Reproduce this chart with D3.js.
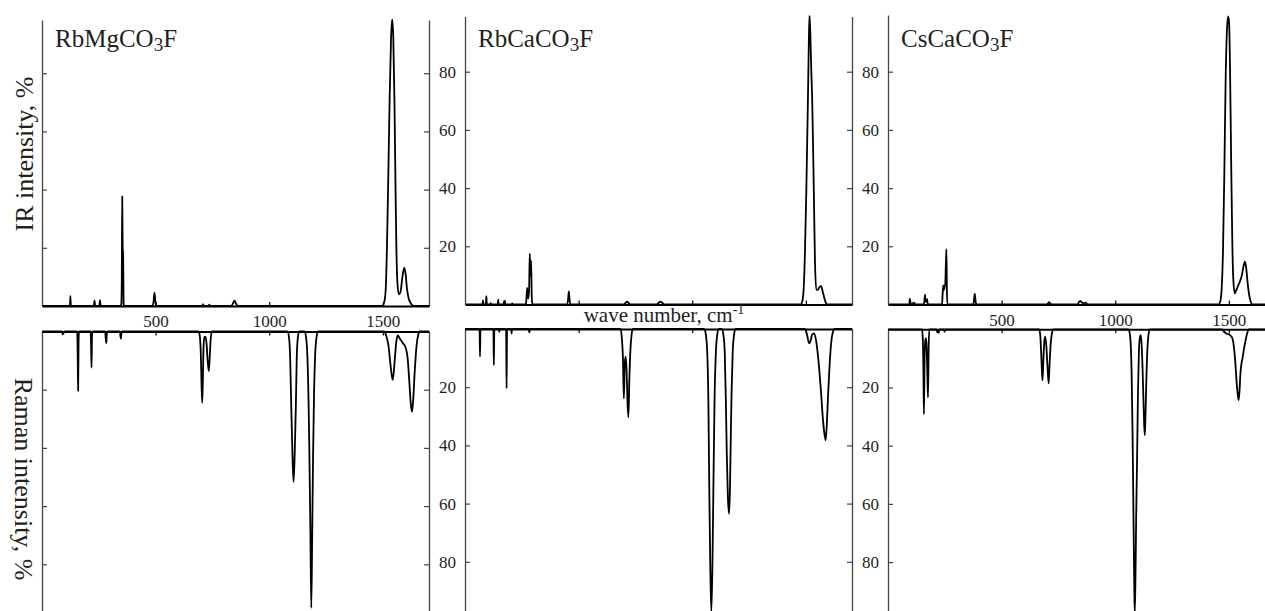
<!DOCTYPE html>
<html>
<head>
<meta charset="utf-8">
<script src="https://cdn.jsdelivr.net/npm/d3@7"></script>
<style>
  body { margin: 0; background: #fff; }
  svg text { font-family: "Liberation Serif", "Times New Roman", serif; fill: #231f20; }
  .yAxis path { stroke: #444; stroke-width: 1.3; }
  .yAxis line { stroke: #444; stroke-width: 1.2; }
  .xAxis path { stroke: #000; stroke-width: 2; }
  .xAxis line { stroke: #000; stroke-width: 1.2; }
  .tick text { font-size: 17px; }
</style>
</head>
<body>
<script>
var width = 1265,
    height = 611;

// wavenumber (cm-1), intensity (%)
var irRbMg = [
  [0,0],[120,0],[123,0.3],[125,3.4],[127,0],[228,0],[231,1.8],[234,0],[252,0],[255,2],[258,0],
  [345,0],[349,0.6],[351,8],[353,37.7],[355,20],[357,18],[359,1],[362,0],
  [487,0],[491,1.5],[495,4.6],[499,1.5],[503,0],[705,0],[708,0.6],[711,0],[733,0],[736,0.5],[739,0],
  [832,0],[840,0.8],[847,1.8],[854,0.8],[862,0],
  [1498,0],[1505,1],[1512,5],[1518,20],[1524,45],[1530,72],[1536,92],[1541,98.6],[1546,92],[1551,70],
  [1555,45],[1559,22],[1564,8],[1570,4],[1578,5],[1586,10],[1594,13.2],[1600,11],[1606,6],[1614,2.5],
  [1624,0.8],[1636,0],[1703,0]
];
var ramanRbMg = [
  [0,0],[88,0],[91,1],[95,0.6],[99,0],[155,0],[157,8],[159,20.4],[161,3],[163,0],
  [214,0],[216,5],[218,12.4],[220,2],[222,0],[278,0],[280,2],[283,4],[285,1],[288,0],
  [343,0],[345,1.5],[347,2.5],[349,1],[352,0],
  [690,0],[695,2],[699,8],[702,18],[705,24.5],[708,16],[711,5],[715,2],[719,1.8],[724,4],[729,10],
  [734,13.6],[738,9],[742,3],[747,0],
  [1080,0],[1087,2],[1092,9],[1097,26],[1102,42],[1107,51.7],[1112,42],[1117,26],[1121,9],[1126,2],[1132,0],
  [1155,0],[1162,2],[1167,7],[1172,20],[1176,38],[1181,68],[1185,95],[1189,70],[1193,42],[1197,22],
  [1202,8],[1208,2],[1214,0],
  [1505,0],[1515,1.5],[1525,5],[1533,11],[1539,15],[1543,16.6],[1548,14],[1554,8],[1560,3],[1566,1.3],
  [1575,2.5],[1588,4],[1600,5.5],[1610,10],[1617,18],[1623,25],[1628,27.6],[1633,24],[1640,14],
  [1648,5],[1656,1],[1662,0],[1703,0]
];
var irRbCa = [
  [0,0],[77,0],[79,1.4],[81,0],[91,0],[93,1.5],[94,2.9],[96,0],[111,0],[113,0.5],[115,0],
  [144,0],[146,1.7],[148,0],[170,0],[172,1.2],[174,0.3],[176,1.2],[178,0],[206,0],[208,0.4],[210,0],
  [268,0],[271,3],[274,5.7],[278,2],[282,5],[285,17.5],[288,10],[291,15],[294,2],[297,0],
  [450,0],[454,2],[457,4.5],[460,2],[463,0],[700,0],[707,0.6],[713,1],[719,0.6],[726,0],
  [845,0],[852,0.6],[860,1],[868,0.6],[876,0],
  [1478,0],[1484,1],[1490,5],[1496,18],[1502,39],[1509,70],[1513,90],[1516,99.5],[1520,92],[1524,80],
  [1528,70],[1535,39],[1540,15],[1546,5],[1552,5],[1560,6],[1567,6.3],[1574,4.5],[1582,2],[1588,0.6],
  [1595,0],[1703,0]
];
var ramanRbCa = [
  [0,0],[64,0],[66,9.5],[68,0],[125,0],[127,12.4],[129,0],[149,0],[151,1],[153,0],
  [181,0],[183,20.4],[185,0],[203,0],[205,1.5],[207,0],[280,0],[283,1.2],[286,0],
  [685,0],[690,3],[695,10],[699,23.9],[703,12],[707,9.5],[711,14],[715,25],[719,30.4],[723,18],
  [728,7],[733,2],[738,0],
  [1052,0],[1060,2],[1066,8],[1071,25],[1075,55],[1079,80],[1084,97.5],[1089,80],[1093,55],[1098,25],
  [1104,8],[1110,2],[1117,0],
  [1130,0],[1137,2],[1143,8],[1148,25],[1152,43],[1157,58],[1162,63.5],[1166,55],[1169,40],[1173,22],
  [1178,8],[1184,2],[1190,0],
  [1495,0],[1502,1],[1508,3],[1512,4.5],[1516,4.9],[1521,4],[1527,2],[1536,1.5],[1545,4],[1553,9],
  [1560,15],[1567,22],[1573,29],[1580,35],[1587,38.3],[1592,33],[1597,24],[1602,16],[1608,8],
  [1614,3],[1620,0.8],[1625,0],[1703,0]
];
var irCsCa = [
  [0,0],[94,0],[96,2],[98,1],[100,0],[106,0],[108,0.5],[112,0.3],[116,0.6],[119,0],
  [158,0],[161,2],[163,3.4],[165,1],[170,1],[172,1.8],[175,0],
  [238,0],[240,3],[243,6.6],[246,5],[249,6],[252,7],[254,12],[257,19],[259,6],[261,0],
  [376,0],[379,2],[382,3.6],[385,1.5],[388,0],[700,0],[705,0.5],[709,0.8],[713,0.5],[718,0],
  [834,0],[840,0.8],[846,1.2],[852,0.8],[860,0.4],[868,0.6],[872,0.5],[878,0],
  [1455,0],[1462,1],[1468,5],[1474,18],[1480,45],[1486,78],[1492,95],[1497,99],[1501,97],[1505,82],
  [1510,50],[1515,22],[1520,8],[1526,3.8],[1533,5],[1541,6.5],[1549,8],[1557,10],[1564,13],
  [1571,14.7],[1577,12],[1583,7],[1590,3],[1596,1],[1603,0],[1703,0]
];
var ramanCsCa = [
  [0,0],[150,0],[153,3],[156,15],[158,29.2],[161,10],[164,4],[167,3],[170,6],[173,15],[176,23.4],
  [179,6],[182,0],[214,0],[217,1],[220,0.3],[223,1.2],[226,0],[246,0],[249,0.8],[252,0],
  [665,0],[670,2],[674,8],[677,14],[680,17.5],[684,10],[688,4],[692,2.5],[697,6],[702,13],[707,18.6],
  [711,12],[716,5],[721,1.5],[727,0],
  [1058,0],[1063,1],[1068,5],[1072,15],[1076,35],[1078,48],[1081,70],[1084,90],[1086,97.5],[1089,85],
  [1092,65],[1096,45],[1100,22],[1104,8],[1108,3],[1112,2],[1116,5],[1120,13],[1124,24],[1127,32],
  [1130,36.4],[1133,30],[1137,17],[1142,6],[1147,1.5],[1152,0],
  [1470,0],[1478,0.8],[1490,1.5],[1505,2],[1515,3],[1522,6],[1528,11],[1534,18],[1540,23],[1543,24.3],
  [1547,21],[1551,15],[1555,12],[1560,10],[1566,7],[1573,4],[1580,1.5],[1588,0],[1703,0]
];

var compounds = [["RbMgCO", "F"], ["RbCaCO", "F"], ["CsCaCO", "F"]];
var irData = [irRbMg, irRbCa, irCsCa];
var ramanData = [ramanRbMg, ramanRbCa, ramanCsCa];
var xTicks = [500, 1000, 1500];
var yTicks = [20, 40, 60, 80];
var xMax = 1703;

// panel placement in px
var panels = [
  {x0: 42,  upTop: 20,   upBase: 306,   loTop: 331.5, yLabels: false, xLabels: true},
  {x0: 465, upTop: 16.5, upBase: 304.5, loTop: 329,   yLabels: true,  xLabels: false},
  {x0: 888, upTop: 15,   upBase: 304.5, loTop: 329.3, yLabels: true,  xLabels: true}
];
var panelW = 387,
    pxPerUnit = 2.91;

var svg = d3.select('body').append('svg')
  .attr('width', width)
  .attr('height', height);

var line = function(x, y){
  return d3.line()
    .x(function(d){ return x(d[0]); })
    .y(function(d){ return y(d[1]); })
    .curve(d3.curveMonotoneX);
};

panels.forEach(function(p, i){
  var x = d3.scaleLinear().domain([0, xMax]).range([p.x0, p.x0 + panelW]);

  var upMax = (p.upBase - p.upTop) / pxPerUnit;
  var yUp = d3.scaleLinear().domain([0, upMax]).range([p.upBase, p.upTop]);

  var loMax = (height - p.loTop) / pxPerUnit;
  var yLo = d3.scaleLinear().domain([0, loMax]).range([p.loTop, height]);

  var g = svg.append('g');

  // clip so the tall peaks stop at the frame
  g.append('clipPath').attr('id', 'clipUp' + i)
    .append('rect').attr('x', p.x0).attr('y', p.upTop - 1)
    .attr('width', panelW).attr('height', p.upBase - p.upTop + 1);

  g.append('path')
    .datum(irData[i])
    .attr('clip-path', 'url(#clipUp' + i + ')')
    .attr('fill', 'none')
    .attr('stroke', '#000')
    .attr('stroke-width', 1.8)
    .attr('stroke-linejoin', 'round')
    .attr('d', line(x, yUp));

  g.append('path')
    .datum(ramanData[i])
    .attr('fill', 'none')
    .attr('stroke', '#000')
    .attr('stroke-width', 1.8)
    .attr('stroke-linejoin', 'round')
    .attr('d', line(x, yLo));

  // vertical axes, ticks inward
  g.append('g')
    .attr('class', 'yAxis')
    .attr('transform', 'translate(' + p.x0 + ',0)')
    .call(d3.axisLeft(yUp).tickValues(yTicks).tickSizeInner(-5).tickSizeOuter(0).tickPadding(9)
      .tickFormat(p.yLabels ? d3.format('d') : ''));

  g.append('g')
    .attr('class', 'yAxis')
    .attr('transform', 'translate(' + (p.x0 + panelW) + ',0)')
    .call(d3.axisRight(yUp).tickValues(yTicks).tickSizeInner(-5).tickSizeOuter(0).tickFormat(''));

  g.append('g')
    .attr('class', 'yAxis')
    .attr('transform', 'translate(' + p.x0 + ',0)')
    .call(d3.axisLeft(yLo).tickValues(yTicks).tickSizeInner(-5).tickSizeOuter(0).tickPadding(9)
      .tickFormat(p.yLabels ? d3.format('d') : ''));

  g.append('g')
    .attr('class', 'yAxis')
    .attr('transform', 'translate(' + (p.x0 + panelW) + ',0)')
    .call(d3.axisRight(yLo).tickValues(yTicks).tickSizeInner(-5).tickSizeOuter(0).tickFormat(''));

  // horizontal axes
  g.append('g')
    .attr('class', 'xAxis')
    .attr('transform', 'translate(0,' + p.upBase + ')')
    .call(d3.axisBottom(x).tickValues(xTicks).tickSizeInner(-4).tickSizeOuter(0).tickPadding(9)
      .tickFormat(p.xLabels ? d3.format('d') : ''));

  g.append('g')
    .attr('class', 'xAxis')
    .attr('transform', 'translate(0,' + p.loTop + ')')
    .call(d3.axisTop(x).tickValues(xTicks).tickSizeInner(-4).tickSizeOuter(0).tickFormat(''));

  g.selectAll('.domain').attr('fill', 'none');

  // compound name
  var t = g.append('text')
    .attr('x', p.x0 + 13)
    .attr('y', 47)
    .style('font-size', '25px');
  t.append('tspan').text(compounds[i][0]);
  t.append('tspan').attr('dy', 4).style('font-size', '19px').text('3');
  t.append('tspan').attr('dy', -4).text(compounds[i][1]);
});

svg.append('text')
  .attr('transform', 'translate(32.5,154) rotate(-90)')
  .attr('text-anchor', 'middle')
  .style('font-size', '26px')
  .text('IR intensity, %');

svg.append('text')
  .attr('transform', 'translate(15,479) rotate(90)')
  .attr('text-anchor', 'middle')
  .style('font-size', '26px')
  .text('Raman intensity, %');

var xt = svg.append('text')
  .attr('x', 664)
  .attr('y', 322)
  .attr('text-anchor', 'middle')
  .style('font-size', '21px');
xt.append('tspan').text('wave number, cm');
xt.append('tspan').attr('dy', -8).style('font-size', '14px').text('-1');
</script>
</body>
</html>
